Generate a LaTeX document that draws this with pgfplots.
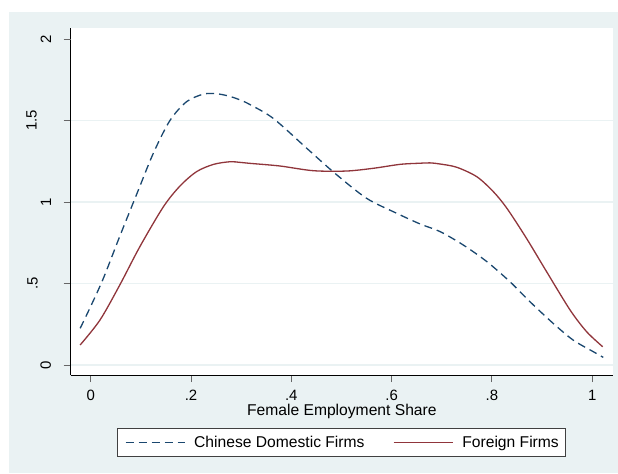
\documentclass[border=0pt]{standalone}
\usepackage{fontspec}
\setmainfont{Liberation Sans}
\usepackage{pgfplots}
\pgfplotsset{compat=1.18}
\definecolor{bgc}{RGB}{234,242,243}
\definecolor{snavy}{RGB}{26,71,111}
\definecolor{smaroon}{RGB}{144,53,59}
\begin{document}
\begin{tikzpicture}
\fill[white] (0,0) rectangle (618bp,474bp);
\fill[bgc] (9bp,1bp) rectangle (618bp,462bp);
\begin{axis}[
  at={(70.7bp,99bp)}, anchor=south west,
  scale only axis, width=542.3bp, height=347bp,
  xmin=-0.0399, xmax=1.0415, ymin=-0.0613, ymax=2.0675,
  axis background/.style={fill=white},
  axis lines*=left,
  axis line style={-, black, line width=0.9bp},
  tick align=outside,
  major tick length=7bp,
  major tick style={black!60, line width=0.9bp},
  xtick={0,0.2,0.4,0.6,0.8,1},
  xticklabels={0,.2,.4,.6,.8,1},
  ytick={0,0.5,1,1.5},
  yticklabels={0,\raisebox{13.5bp}{.5},1,\raisebox{14.5bp}{1.5}},
  extra y ticks={2}, extra y tick labels={2},
  extra y tick style={grid=none},
  ymajorgrids,
  grid style={bgc, line width=1.2bp},
  ticklabel style={font=\fontsize{15}{18}\selectfont},
  xticklabel style={anchor=north, inner sep=0pt, yshift=-8bp},
  yticklabel style={xshift=-12.5bp, rotate=90, anchor=south, inner sep=0pt},
  xlabel={Female Employment Share},
  xlabel style={font=\fontsize{15.7}{18}\selectfont, at={(axis description cs:0.5,0)}, anchor=base, yshift=-40.7bp},
  legend columns=2,
  legend style={at={(axis description cs:0.5,0)}, anchor=center, yshift=-67.7bp,
    draw=black!75, line width=0.8bp, fill=white,
    font=\fontsize{15.7}{18}\selectfont,
    nodes={inner sep=0pt},
    inner xsep=7bp, inner ysep=7.5bp,
    /tikz/every odd column/.append style={column sep=9bp},
    /tikz/every even column/.append style={column sep=28.5bp}},
  legend cell align=left,
  legend image code/.code={\draw[#1] (0bp,0bp) -- (59bp,0bp);},
]
\addplot[snavy, line width=1.3bp, dash pattern=on 8bp off 5bp, smooth, tension=0.5] coordinates {
(-0.021,0.225) (0.0,0.36) (0.025,0.53) (0.058,0.79) (0.092,1.05) (0.125,1.30)
(0.158,1.50) (0.191,1.615) (0.225,1.662) (0.251,1.664) (0.275,1.650) (0.298,1.626)
(0.318,1.597) (0.364,1.513) (0.431,1.329) (0.487,1.176) (0.550,1.023) (0.610,0.931)
(0.657,0.865) (0.697,0.818) (0.743,0.736) (0.790,0.634) (0.836,0.511) (0.876,0.388)
(0.922,0.256) (0.962,0.153) (1.002,0.082) (1.022,0.047)
};
\addlegendentry{Chinese Domestic Firms}
\addplot[smaroon, line width=1.3bp, smooth, tension=0.5] coordinates {
(-0.021,0.123) (0.0185,0.276) (0.058,0.491) (0.098,0.726) (0.145,0.971) (0.178,1.098)
(0.211,1.186) (0.245,1.231) (0.278,1.247) (0.298,1.243) (0.318,1.237) (0.377,1.221)
(0.444,1.192) (0.510,1.190) (0.564,1.207) (0.617,1.231) (0.657,1.238) (0.677,1.240)
(0.697,1.233) (0.730,1.213) (0.770,1.155) (0.803,1.063) (0.830,0.961) (0.869,0.777)
(0.909,0.573) (0.956,0.337) (0.989,0.204) (1.021,0.112)
};
\addlegendentry{Foreign Firms}
\end{axis}
\end{tikzpicture}
\end{document}
